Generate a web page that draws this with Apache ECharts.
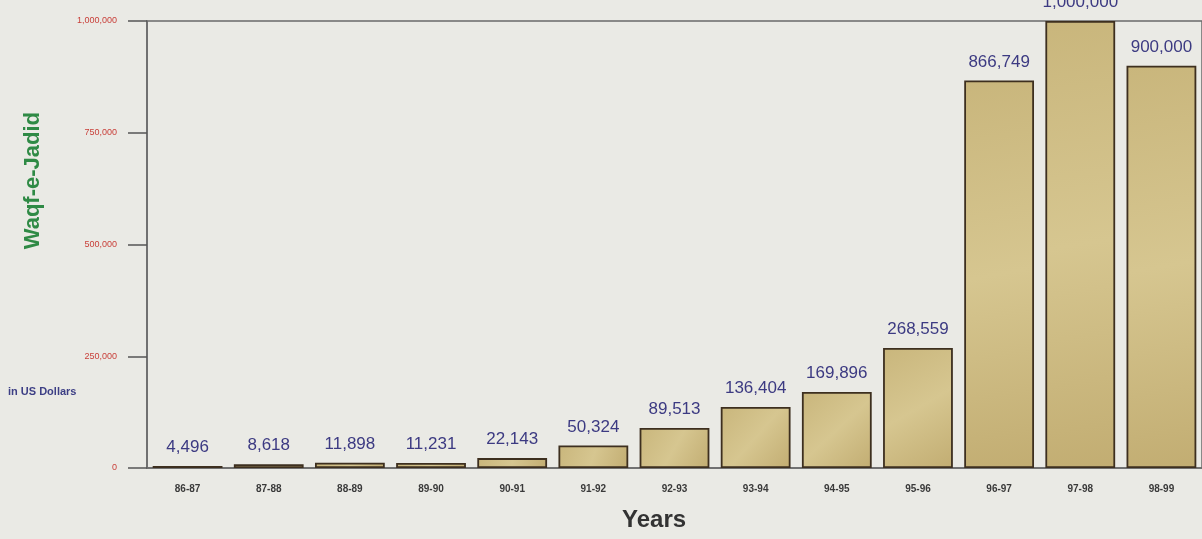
<!DOCTYPE html>
<html>
<head>
<meta charset="utf-8">
<script src="https://cdn.jsdelivr.net/npm/echarts@6/dist/echarts.min.js"></script>
<style>
html,body{margin:0;padding:0;background:#eaeae5;}
#chart{width:1202px;height:539px;}
</style>
</head>
<body>
<div id="chart"></div>
<script>
const categories = ['86-87','87-88','88-89','89-90','90-91','91-92','92-93','93-94','94-95','95-96','96-97','97-98','98-99'];
const values = [4496, 8618, 11898, 11231, 22143, 50324, 89513, 136404, 169896, 268559, 866749, 1000000, 900000];
const yTicks = [0, 250000, 500000, 750000, 1000000];

const fmt = v => Number(v).toLocaleString('en-US');
const chart = echarts.init(document.getElementById('chart'));
chart.setOption({
  backgroundColor: '#eaeae5',
  animation: false,
  grid: { left: 147, top: 21, bottom: 71, right: -6, show: true, borderColor: '#6a6a6a', borderWidth: 1.5, backgroundColor: 'transparent' },
  xAxis: {
    type: 'category',
    data: categories,
    axisLine: { lineStyle: { color: '#6a6a6a', width: 1.5 } },
    axisTick: { alignWithLabel: true, length: 6, lineStyle: { color: '#555' } },
    axisLabel: { margin: 16, color: '#3a3a3a', fontSize: 10, fontWeight: 'bold', fontFamily: 'Liberation Sans Narrow, Arial, sans-serif' }
  },
  yAxis: {
    type: 'value',
    min: yTicks[0], max: yTicks[yTicks.length - 1], interval: 250000,
    axisLine: { show: true, lineStyle: { color: '#6a6a6a', width: 1.5 } },
    axisTick: { show: true, length: 19, lineStyle: { color: '#555', width: 1.5 } },
    splitLine: { show: false },
    axisLabel: { margin: 30, color: '#c9403a', fontSize: 9, fontFamily: 'Liberation Sans, Arial, sans-serif', formatter: v => fmt(v) }
  },
  series: [{
    type: 'bar',
    data: values,
    barCategoryGap: '14%',
    itemStyle: {
      color: new echarts.graphic.LinearGradient(0, 0, 1, 1, [
        { offset: 0, color: '#c9b67c' },
        { offset: 0.5, color: '#d6c690' },
        { offset: 1, color: '#c2ad72' }
      ]),
      borderColor: '#3d2f1f',
      borderWidth: 1.8
    },
    label: {
      show: true, position: 'top', distance: 10,
      color: '#3c3a82', fontSize: 17,
      fontFamily: 'Liberation Sans Narrow, Arial Narrow, Arial, sans-serif',
      formatter: p => fmt(p.value)
    }
  }],
  graphic: [
    { type: 'text', left: 22, top: 112, rotation: Math.PI / 2, style: { text: 'Waqf-e-Jadid', fill: '#2f8a45', font: 'bold 22px Liberation Sans, Arial, sans-serif' } },
    { type: 'text', left: 8, top: 386, style: { text: 'in US Dollars', fill: '#3d3f85', font: 'bold 11px Liberation Sans, Arial, sans-serif' } },
    { type: 'text', left: 622, top: 508, style: { text: 'Years', fill: '#333', font: 'bold 24px Liberation Sans, Arial, sans-serif' } }
  ]
});
</script>
</body>
</html>
